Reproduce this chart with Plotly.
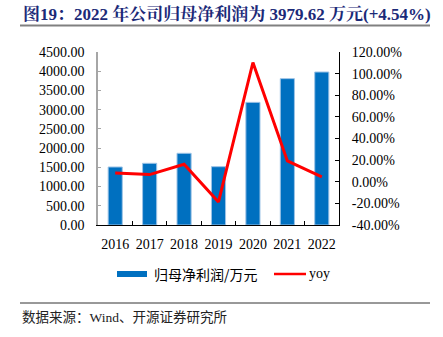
import plotly.graph_objects as go

years = ["2016", "2017", "2018", "2019", "2020", "2021", "2022"]
net_profit = [1509, 1605, 1865, 1517, 3190, 3807, 3979.62]
yoy_pct = [8.0, 6.6, 16.2, -18.7, 110.3, 19.3, 4.54]

left_ticks = [0, 500, 1000, 1500, 2000, 2500, 3000, 3500, 4000, 4500]
left_text = ["0.00", "500.00", "1000.00", "1500.00", "2000.00", "2500.00",
             "3000.00", "3500.00", "4000.00", "4500.00"]
right_ticks = [-40, -20, 0, 20, 40, 60, 80, 100, 120]
right_text = ["-40.00%", "-20.00%", "0.00%", "20.00%", "40.00%", "60.00%",
              "80.00%", "100.00%", "120.00%"]

title_text = "图19：2022 年公司归母净利润为 3979.62 万元(+4.54%)"
bar_name = "归母净利润/万元"
line_name = "yoy"
source_text = "数据来源：Wind、开源证券研究所"

serif = "Liberation Serif, Times New Roman, Noto Serif CJK SC, Noto Sans CJK SC, serif"

fig = go.Figure()
fig.add_trace(go.Bar(
    x=years, y=net_profit, name=bar_name,
    marker=dict(color="#0070C0", line=dict(color="#9DC3E6", width=1)),
    yaxis="y",
))
fig.add_trace(go.Scatter(
    x=years, y=yoy_pct, name=line_name, mode="lines",
    line=dict(color="#FF0000", width=3),
    yaxis="y2",
))

L, R, T, B = 98, 104, 52, 112
W, H = 443, 337
pw, ph = W - L - R, H - T - B

def px_x(p):
    return (p - L) / pw

def px_y(p):
    return (H - B - p) / ph

fig.update_layout(
    width=W, height=H,
    margin=dict(l=L, r=R, t=T, b=B, pad=0),
    paper_bgcolor="white", plot_bgcolor="white",
    showlegend=False,
    bargap=0.59,
    font=dict(family=serif, size=14, color="black"),
    xaxis=dict(
        type="category", showline=True, linecolor="#000000", linewidth=1,
        ticks="inside", tickson="boundaries", ticklen=4, tickcolor="#000000",
        showgrid=False, tickangle=0, ticklabelstandoff=6,
        tickfont=dict(size=14, family=serif),
    ),
    yaxis=dict(
        range=[0, 4500], tickvals=left_ticks, ticktext=left_text,
        showline=True, linecolor="#A6A6A6", linewidth=1.5,
        ticks="inside", ticklen=3, tickcolor="#A6A6A6",
        showgrid=False, zeroline=False, ticklabelstandoff=9,
        tickfont=dict(size=14, family=serif),
    ),
    yaxis2=dict(
        range=[-40, 120], tickvals=right_ticks, ticktext=right_text,
        overlaying="y", side="right",
        showline=True, linecolor="#000000", linewidth=1,
        ticks="inside", ticklen=4, tickcolor="#000000",
        showgrid=False, zeroline=False, ticklabelstandoff=9,
        tickfont=dict(size=14, family=serif),
    ),
)

shapes = [
    dict(type="line", xref="paper", yref="paper", x0=px_x(20), x1=px_x(430),
         y0=px_y(25.5), y1=px_y(25.5), line=dict(color="#808080", width=2)),
    dict(type="line", xref="paper", yref="paper", x0=px_x(20), x1=px_x(430),
         y0=px_y(303), y1=px_y(303), line=dict(color="#333333", width=1)),
    dict(type="rect", xref="paper", yref="paper", x0=px_x(117), x1=px_x(147),
         y0=px_y(277), y1=px_y(271), fillcolor="#0070C0", line=dict(width=0)),
    dict(type="line", xref="paper", yref="paper", x0=px_x(274), x1=px_x(306),
         y0=px_y(274), y1=px_y(274), line=dict(color="#FF0000", width=2.5)),
]

annotations = [
    dict(text="<b>" + title_text + "</b>", xref="paper", yref="paper",
         x=px_x(21), y=px_y(14), xanchor="left", yanchor="middle", showarrow=False,
         font=dict(size=17, color="#1B2A78",
                   family="Liberation Serif, Noto Serif CJK SC, Noto Sans CJK SC, serif")),
    dict(text=bar_name, xref="paper", yref="paper",
         x=px_x(152), y=px_y(274), xanchor="left", yanchor="middle", showarrow=False,
         font=dict(size=14, color="#000000", family="Noto Sans CJK SC, sans-serif")),
    dict(text=line_name, xref="paper", yref="paper",
         x=px_x(307), y=px_y(273), xanchor="left", yanchor="middle", showarrow=False,
         font=dict(size=14, color="#000000", family=serif)),
    dict(text=source_text, xref="paper", yref="paper",
         x=px_x(20), y=px_y(317), xanchor="left", yanchor="middle", showarrow=False,
         font=dict(size=13.5, color="#222222", family="Liberation Serif, Noto Sans CJK SC, serif")),
]

fig.update_layout(shapes=shapes, annotations=annotations)
fig.write_html("out.html")
